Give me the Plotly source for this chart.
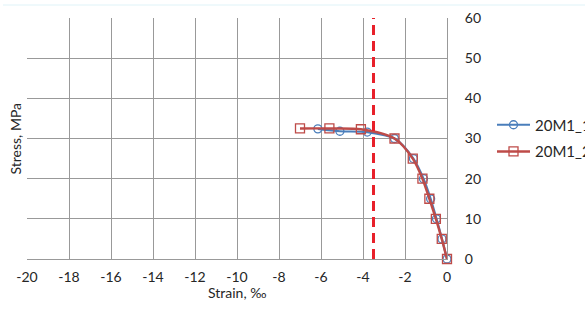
import plotly.graph_objects as go

# Data
s1_name = "20M1_1"
s1_strain = [-6.15, -5.1, -3.8, -2.5, -1.6, -1.12, -0.78, -0.5, -0.24, 0.0]
s1_stress = [32.4, 31.8, 31.6, 30.0, 25.0, 20.0, 15.0, 10.0, 5.0, 0.0]

s2_name = "20M1_2"
s2_strain = [-7.0, -5.6, -4.1, -2.5, -1.63, -1.17, -0.84, -0.53, -0.25, 0.0]
s2_stress = [32.5, 32.5, 32.3, 30.0, 25.0, 20.0, 15.0, 10.0, 5.0, 0.0]

limit_strain = -3.5
x_ticks = list(range(-20, 1, 2))
y_ticks = list(range(0, 61, 10))
x_title = "Strain, ‰"
y_title = "Stress, MPa"

FONT = "Lato"
TXT = "#262626"
GRID = "#999999"

fig = go.Figure()

fig.add_trace(go.Scatter(
    x=s1_strain, y=s1_stress, name=s1_name, mode="lines+markers",
    line=dict(color="#4a7ebb", width=2.2, shape="spline", smoothing=0.8),
    marker=dict(symbol="circle-open", size=8, color="#4a7ebb", line=dict(width=1.3)),
    legend="legend", cliponaxis=False,
))
fig.add_trace(go.Scatter(
    x=s2_strain, y=s2_stress, name=s2_name, mode="lines+markers",
    line=dict(color="#be4b48", width=2.4, shape="spline", smoothing=0.8),
    marker=dict(symbol="square-open", size=9, color="#be4b48", line=dict(width=1.3)),
    legend="legend2", cliponaxis=False,
))
fig.add_trace(go.Scatter(
    x=[limit_strain, limit_strain], y=[y_ticks[0], y_ticks[-1]], mode="lines",
    line=dict(color="#e8202a", width=3, dash="10px,6px"),
    showlegend=False, hoverinfo="skip",
))

L, R, T, B = 27, 138, 18, 70
W, H = 585, 329
pw = W - L - R
ph = H - T - B

def px_x(px):
    return (px - L) / pw

def px_y(py):
    return (H - B - py) / ph

fig.update_layout(
    width=W, height=H,
    margin=dict(l=L, r=R, t=T, b=B, pad=0, autoexpand=False),
    paper_bgcolor="white", plot_bgcolor="white",
    font=dict(family=FONT, size=14, color=TXT),
    xaxis=dict(
        range=[-20, 0], tickvals=x_ticks, ticktext=[str(v) for v in x_ticks],
        showgrid=True, gridcolor=GRID, gridwidth=1,
        showline=True, linecolor=GRID, linewidth=1, zeroline=False,
        ticks="", ticklabelstandoff=5,
        fixedrange=True,
    ),
    yaxis=dict(
        range=[0, 60], tickvals=y_ticks, side="right",
        showgrid=True, gridcolor=GRID, gridwidth=1,
        showline=True, linecolor=GRID, linewidth=1, zeroline=False,
        ticks="", ticklabelstandoff=14,
        fixedrange=True,
    ),
    legend=dict(
        x=px_x(492), y=px_y(125), xanchor="left", yanchor="middle",
        bgcolor="rgba(0,0,0,0)", itemwidth=33, font=dict(size=15, family=FONT, color=TXT),
    ),
    legend2=dict(
        x=px_x(492), y=px_y(151.7), xanchor="left", yanchor="middle",
        bgcolor="rgba(0,0,0,0)", itemwidth=33, font=dict(size=15, family=FONT, color=TXT),
    ),
    annotations=[
        dict(
            text=y_title, textangle=-90, xref="paper", yref="paper",
            x=px_x(15), y=0.5, xanchor="center", yanchor="middle", showarrow=False,
            font=dict(size=14, family=FONT, color=TXT),
        ),
        dict(
            text=x_title, xref="paper", yref="paper",
            x=0.5, y=px_y(292), xanchor="center", yanchor="middle", showarrow=False,
            font=dict(size=14, family=FONT, color=TXT),
        ),
    ],
    shapes=[dict(
        type="line", xref="paper", yref="paper",
        x0=px_x(3), x1=px_x(585), y0=px_y(5), y1=px_y(5),
        line=dict(color="#dff3f8", width=1),
    )],
    showlegend=True,
)

fig.write_html("out.html")
